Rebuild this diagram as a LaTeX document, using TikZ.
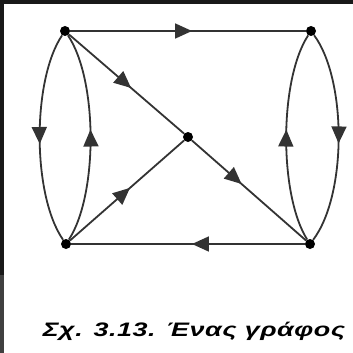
\documentclass[tikz,border=0pt]{standalone}
\usepackage{fontspec}
\newfontfamily\capfont[LetterSpace=2]{Liberation Sans}
\usetikzlibrary{arrows.meta}
\usetikzlibrary{decorations.markings}

\begin{document}
\begin{tikzpicture}[x=1pt,y=-1pt,
  vertex/.style={circle,fill=black,inner sep=0pt,minimum size=10pt},
  edge/.style={line width=1.8pt,black!80},
  midarrow/.style={postaction={decorate},decoration={markings,
    mark=at position #1 with {\arrow{Triangle[length=17pt,width=15pt]}}}},
  midarrow/.default=0.53]
\useasboundingbox (0,0) rectangle (353,353);
% dark strips along the scan edge
\fill[black!90] (0,0) rectangle (353,4);
\fill[black!90] (0,0) rectangle (4,275);
\fill[black!75] (0,275) rectangle (4,353);
% vertices
\node[vertex] (tl) at (65,31) {};
\node[vertex] (tr) at (311,31) {};
\node[vertex] (c) at (188,137) {};
\node[vertex] (bl) at (66,244) {};
\node[vertex] (br) at (310,244) {};
% straight edges
\draw[edge,midarrow=0.517] (tl) -- (tr);
\draw[edge,midarrow=0.483] (br) -- (bl);
\draw[edge,midarrow=0.54] (tl) -- (c);
\draw[edge,midarrow=0.435] (c) -- (br);
\draw[edge,midarrow=0.526] (bl) -- (c);
% curved edges
\draw[edge,midarrow=0.53] (tl) .. controls (32,80) and (32,195) .. (bl);
\draw[edge,midarrow=0.537] (bl) .. controls (98,195) and (98,80) .. (tl);
\draw[edge,midarrow=0.537] (br) .. controls (279,195) and (279,80) .. (tr);
\draw[edge,midarrow=0.527] (tr) .. controls (347,80) and (347,195) .. (br);
% caption
\node[anchor=base,inner sep=0pt,xscale=1.38] (cap) at (194,336) {\capfont\bfseries\itshape\fontsize{19.5}{22}\selectfont Σχ. 3.13. Ένας γράφος};
\end{tikzpicture}
\end{document}
